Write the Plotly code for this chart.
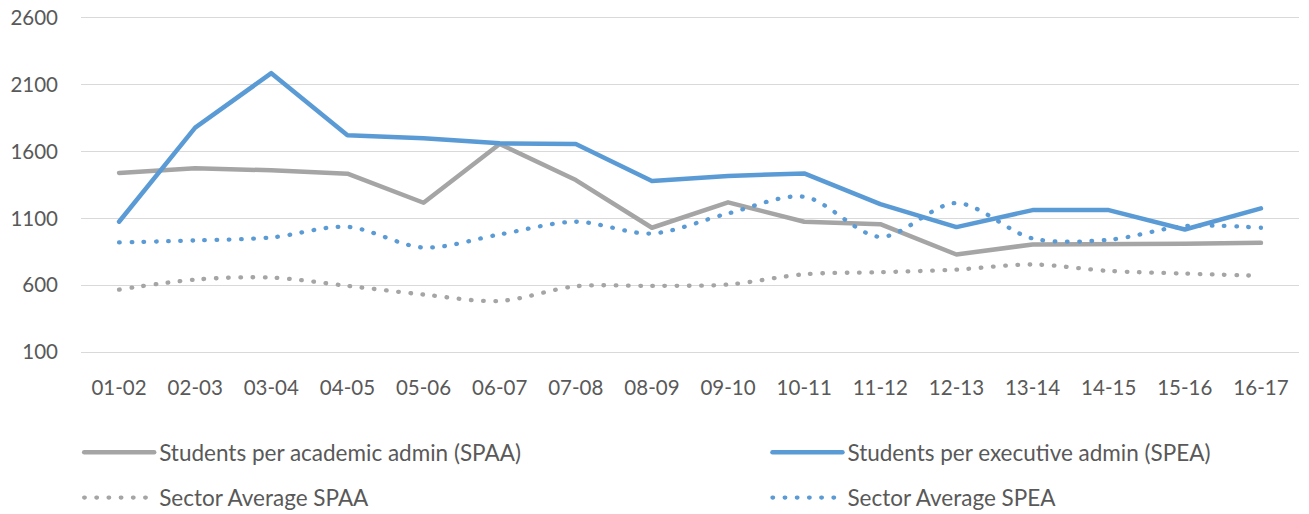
import plotly.graph_objects as go

categories = ["01-02", "02-03", "03-04", "04-05", "05-06", "06-07", "07-08", "08-09",
              "09-10", "10-11", "11-12", "12-13", "13-14", "14-15", "15-16", "16-17"]
spaa = [1440, 1475, 1460, 1435, 1217, 1657, 1387, 1030, 1220, 1075, 1057, 830, 905, 905, 910, 917]
spea = [1075, 1780, 2187, 1722, 1700, 1662, 1657, 1380, 1417, 1437, 1207, 1035, 1162, 1162, 1017, 1175]
sector_spaa = [567, 642, 657, 595, 530, 482, 592, 595, 605, 682, 697, 717, 755, 707, 687, 670]
sector_spea = [920, 935, 957, 1037, 882, 980, 1075, 987, 1137, 1262, 962, 1215, 950, 940, 1042, 1030]
y_ticks = [100, 600, 1100, 1600, 2100, 2600]

GRAY = "#A5A5A5"
BLUE = "#5B9BD5"
TEXT = "#595959"
GRID = "#D9D9D9"
FONT = "Lato, 'Open Sans', sans-serif"
DOT = "0.6px,11.6px"

fig = go.Figure()
fig.add_trace(go.Scatter(x=categories, y=spaa, mode="lines", name="Students per academic admin (SPAA)",
                         line=dict(color=GRAY, width=4.5), legend="legend", legendgroup="a"))
fig.add_trace(go.Scatter(x=categories, y=spea, mode="lines", name="Students per executive admin (SPEA)",
                         line=dict(color=BLUE, width=4.5), legend="legend2", legendgroup="b"))
fig.add_trace(go.Scatter(x=categories, y=sector_spaa, mode="lines", name="Sector Average SPAA",
                         line=dict(color=GRAY, width=4.3, dash=DOT, shape="spline", smoothing=0.9),
                         legend="legend", legendgroup="c"))
fig.add_trace(go.Scatter(x=categories, y=sector_spea, mode="lines", name="Sector Average SPEA",
                         line=dict(color=BLUE, width=4.3, dash=DOT, shape="spline", smoothing=0.9),
                         legend="legend2", legendgroup="d"))

legend_common = dict(
    orientation="v", yanchor="top", xanchor="left",
    font=dict(family=FONT, size=22.5, color=TEXT),
    bgcolor="rgba(0,0,0,0)", traceorder="grouped", tracegroupgap=13,
    itemwidth=70,
)

fig.update_layout(
    width=1309, height=514,
    margin=dict(l=81, r=10, t=18, b=162, autoexpand=False),
    paper_bgcolor="white", plot_bgcolor="white",
    font=dict(family=FONT, size=20.5, color=TEXT),
    showlegend=True,
    legend=dict(x=-0.0015, y=-0.237, **legend_common),
    legend2=dict(x=0.5636, y=-0.237, **legend_common),
    xaxis=dict(type="category", range=[-0.5, 15.5], showgrid=False,
               showline=True, linecolor=GRID, linewidth=1.4, mirror=True,
               zeroline=False, ticks="", ticklabelstandoff=17,
               tickfont=dict(family=FONT, size=20.5, color=TEXT)),
    yaxis=dict(range=[100, 2600], tickvals=y_ticks, showgrid=True, gridcolor=GRID,
               gridwidth=1.4, zeroline=False, showline=False, ticks="",
               ticklabelstandoff=22, tickfont=dict(family=FONT, size=20.5, color=TEXT)),
)

post = (
    "document.body.style.margin='0px';"
    "var s=document.createElement('style');"
    "s.textContent='path.js-line{stroke-linecap:round !important;stroke-linejoin:round !important;}';"
    "document.head.appendChild(s);"
)
fig.write_html("out.html", post_script=post, config={"displayModeBar": False})
